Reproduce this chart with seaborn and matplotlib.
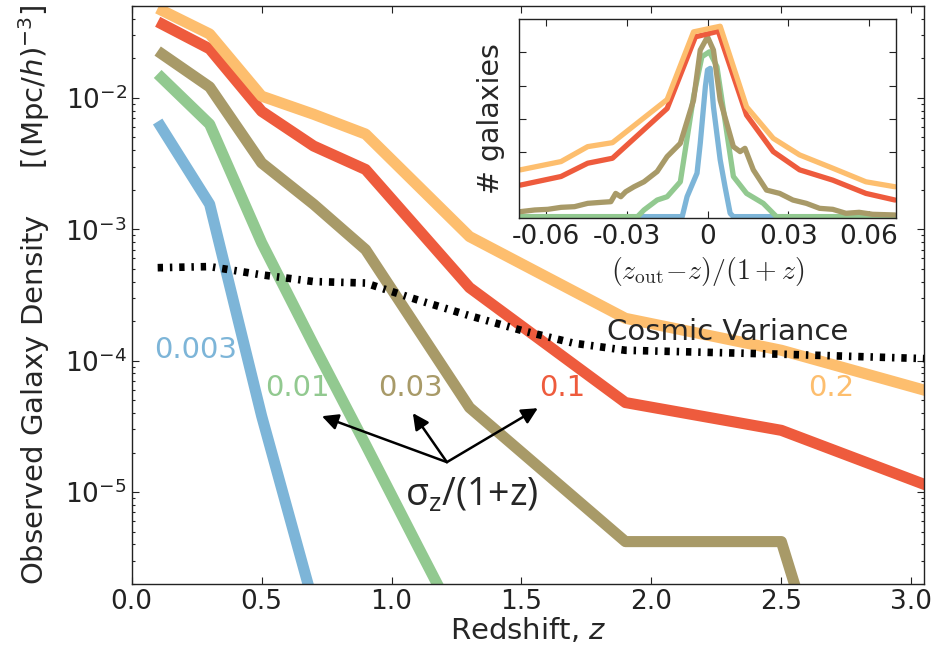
import numpy as np
import pandas as pd
import matplotlib
matplotlib.use("Agg")
import matplotlib.pyplot as plt
import seaborn as sns

# ---------------- data ----------------
sigma_labels = ["0.003", "0.01", "0.03", "0.1", "0.2"]
sigma_colors = ["#7db5d8", "#92c990", "#a89a68", "#ee5b3d", "#fdbe6e"]

z_blue = [0.1, 0.3, 0.5, 0.7]
d_blue = [6.6e-3, 1.55e-3, 3.8e-5, 1.4e-6]

z_green = [0.1, 0.3, 0.5, 0.7, 0.9, 1.1, 1.3]
d_green = [1.52e-2, 6.3e-3, 7.9e-4, 1.32e-4, 2.3e-5, 3.9e-6, 6.7e-7]

z_brown = [0.1, 0.3, 0.5, 0.7, 0.9, 1.3, 1.9, 2.5, 2.7]
d_brown = [2.27e-2, 1.21e-2, 3.2e-3, 1.55e-3, 7.0e-4, 4.4e-5, 4.2e-6, 4.2e-6, 2.2e-7]

z_red = [0.1, 0.3, 0.5, 0.7, 0.9, 1.3, 1.9, 2.5, 3.1]
d_red = [3.79e-2, 2.36e-2, 7.9e-3, 4.3e-3, 2.85e-3, 3.6e-4, 4.8e-5, 2.95e-5, 1.05e-5]

z_orange = [0.1, 0.3, 0.5, 0.7, 0.9, 1.3, 1.9, 2.5, 3.1]
d_orange = [4.8e-2, 3.06e-2, 1.03e-2, 7.5e-3, 5.3e-3, 8.8e-4, 2.1e-4, 1.2e-4, 5.6e-5]

z_cv = [0.1, 0.3, 0.5, 0.7, 0.9, 1.1, 1.3, 1.5, 1.7, 1.9, 2.5, 3.1]
d_cv = [5.1e-4, 5.2e-4, 4.5e-4, 4.0e-4, 3.9e-4, 2.9e-4, 2.2e-4, 1.7e-4, 1.36e-4, 1.2e-4, 1.12e-4, 1.03e-4]

x_ticks = [0.0, 0.5, 1.0, 1.5, 2.0, 2.5, 3.0]
x_tick_labels = ["0.0", "0.5", "1.0", "1.5", "2.0", "2.5", "3.0"]

# inset: distribution of (z_out - z)/(1+z)
ix_blue = [-0.07, -0.0094, -0.0076, -0.0039, -0.0027, -0.0008, 0.0, 0.001, 0.0022, 0.0047, 0.0065, 0.0084, 0.0096, 0.07]
iy_blue = [0.05, 0.05, 0.65, 1.36, 2.26, 3.97, 4.47, 4.52, 3.36, 1.76, 0.95, 0.15, 0.05, 0.05]

ix_green = [-0.07, -0.026, -0.0236, -0.0187, -0.015, -0.0101, -0.0052, -0.0021, 0.0007, 0.0035, 0.0096, 0.0145, 0.0207, 0.0256, 0.07]
iy_green = [0.05, 0.05, 0.25, 0.55, 0.65, 1.10, 3.66, 4.87, 5.02, 4.57, 1.26, 0.75, 0.45, 0.05, 0.05]

ix_brown = [-0.0695, -0.0642, -0.0593, -0.0544, -0.0494, -0.0445, -0.0396, -0.0359, -0.0341, -0.0322,
            -0.0304, -0.0273, -0.0236, -0.0187, -0.015, -0.0101, -0.0052, -0.0027, 0.0, 0.0022,
            0.0047, 0.0096, 0.0121, 0.0139, 0.017, 0.0219, 0.0268, 0.0317, 0.0367, 0.0416,
            0.0465, 0.0514, 0.0563, 0.0613, 0.0696]
iy_brown = [0.20, 0.25, 0.27, 0.33, 0.35, 0.45, 0.48, 0.50, 0.75, 0.65,
            0.80, 0.95, 1.10, 1.41, 1.86, 2.26, 3.56, 5.07, 5.47, 5.07,
            3.56, 2.16, 2.01, 2.11, 1.46, 0.85, 0.75, 0.55, 0.45, 0.30,
            0.27, 0.15, 0.18, 0.12, 0.10]

ix_red = [-0.0695, -0.0544, -0.0445, -0.0353, -0.015, -0.0045, 0.004, 0.0145, 0.0244, 0.0342, 0.0465, 0.0588, 0.0696]
iy_red = [1.00, 1.26, 1.66, 1.81, 3.31, 5.47, 5.64, 3.11, 2.01, 1.46, 1.15, 0.75, 0.55]

ix_orange = [-0.0695, -0.0544, -0.0445, -0.0353, -0.015, -0.0052, 0.0047, 0.0145, 0.0244, 0.0342, 0.0465, 0.0588, 0.0696]
iy_orange = [1.46, 1.71, 2.16, 2.28, 3.58, 5.62, 5.79, 3.36, 2.41, 1.91, 1.51, 1.10, 0.95]

inset_x_ticks = [-0.06, -0.03, 0.0, 0.03, 0.06]
inset_x_tick_labels = ["-0.06", "-0.03", "0", "0.03", "0.06"]

# ---------------- style ----------------
sns.set_style("ticks")
plt.rcParams["font.family"] = ["DejaVu Sans"]
plt.rcParams["axes.unicode_minus"] = False
plt.rcParams.update({
    "xtick.direction": "in", "ytick.direction": "in",
    "xtick.top": True, "ytick.right": True,
    "xtick.major.size": 5, "ytick.major.size": 5,
    "xtick.minor.size": 2.5, "ytick.minor.size": 2.5,
    "xtick.major.width": 0.8, "ytick.major.width": 0.8,
    "xtick.minor.width": 0.8, "ytick.minor.width": 0.8,
    "axes.edgecolor": "#222222", "axes.linewidth": 1.0,
    "xtick.color": "#222222", "ytick.color": "#222222",
})

fig = plt.figure(figsize=(9.44, 6.51), dpi=100)
ax = fig.add_axes([0.1395, 0.103, 0.8396, 0.8878])
ax.set_yscale("log")

series_z = [z_blue, z_green, z_brown, z_red, z_orange]
series_d = [d_blue, d_green, d_brown, d_red, d_orange]
main_df = pd.concat(
    [pd.DataFrame({"z": zz, "density": dd, "sigma": lab})
     for zz, dd, lab in zip(series_z, series_d, sigma_labels)],
    ignore_index=True)
palette = dict(zip(sigma_labels, sigma_colors))

sns.lineplot(data=main_df, x="z", y="density", hue="sigma", hue_order=sigma_labels,
             palette=palette, lw=8, legend=False, estimator=None, sort=False, ax=ax)
for ln in ax.lines:
    ln.set_solid_capstyle("butt")

sns.lineplot(x=z_cv, y=d_cv, color="black", lw=5.5, estimator=None, sort=False, ax=ax)
cv_line = ax.lines[-1]
cv_line.set_dashes([0.7, 0.9, 0.32, 0.9])
cv_line.set_dash_capstyle("butt")
cv_line.set_zorder(3)

ax.set_xlim(0, 3.05)
ax.set_ylim(2e-6, 5e-2)
ax.set_xticks(x_ticks)
ax.set_xticklabels(x_tick_labels)
ax.tick_params(axis="both", which="major", labelsize=19)
ax.set_xlabel("Redshift, $z$", fontsize=21, labelpad=1)
ax.set_ylabel(r"Observed Galaxy Density     $[(\mathrm{Mpc}/h)^{-3}]$", fontsize=21, labelpad=9)

# series labels
label_pos = [(0.247, 1.21e-4), (0.636, 6.2e-5), (1.071, 6.2e-5), (1.655, 6.2e-5), (2.69, 6.2e-5)]
for (xx, yy), lab, col in zip(label_pos, sigma_labels, sigma_colors):
    ax.text(xx, yy, lab, color=col, fontsize=21, ha="center", va="center", zorder=5)

ax.text(2.294, 1.66e-4, "Cosmic Variance", fontsize=21, ha="center", va="center", zorder=5)

# arrows
origin = (1.213, 1.69e-5)
tips = [(0.732, 3.78e-5), (1.082, 3.99e-5), (1.563, 4.35e-5)]
for tp in tips:
    ax.annotate("", xy=tp, xytext=origin,
                arrowprops=dict(arrowstyle="-|>", color="black", lw=1.8,
                                mutation_scale=24, shrinkA=0, shrinkB=0), zorder=6)
ax.text(1.309, 9.4e-6, r"σ$_{\mathregular{z}}$/(1+z)", fontsize=27,
        family=["Open Sans", "DejaVu Sans"], ha="center", va="center", zorder=6)

# ---------------- inset ----------------
axin = fig.add_axes([0.5498, 0.6647, 0.3994, 0.3057])
ins_x = [ix_blue, ix_green, ix_brown, ix_red, ix_orange]
ins_y = [iy_blue, iy_green, iy_brown, iy_red, iy_orange]
inset_df = pd.concat(
    [pd.DataFrame({"dz": xx, "count": yy, "sigma": lab})
     for xx, yy, lab in zip(ins_x, ins_y, sigma_labels)],
    ignore_index=True)
sns.lineplot(data=inset_df, x="dz", y="count", hue="sigma", hue_order=sigma_labels,
             palette=palette, lw=3.8, legend=False, estimator=None, sort=False, ax=axin)
axin.set_xlim(-0.07, 0.07)
axin.set_ylim(0, 6)
axin.set_yticks([1, 2, 3, 4, 5])
axin.set_yticklabels([])
axin.set_xticks(inset_x_ticks)
axin.set_xticklabels(inset_x_tick_labels)
axin.tick_params(axis="both", which="major", labelsize=19, pad=4)
axin.set_xlabel(r"$(z_{\rm out}\!-\!z)/(1+z)$", fontsize=20, math_fontfamily="cm", labelpad=4)
axin.set_ylabel("# galaxies", fontsize=20.5, labelpad=6)

fig.savefig("out.png", dpi=100)
